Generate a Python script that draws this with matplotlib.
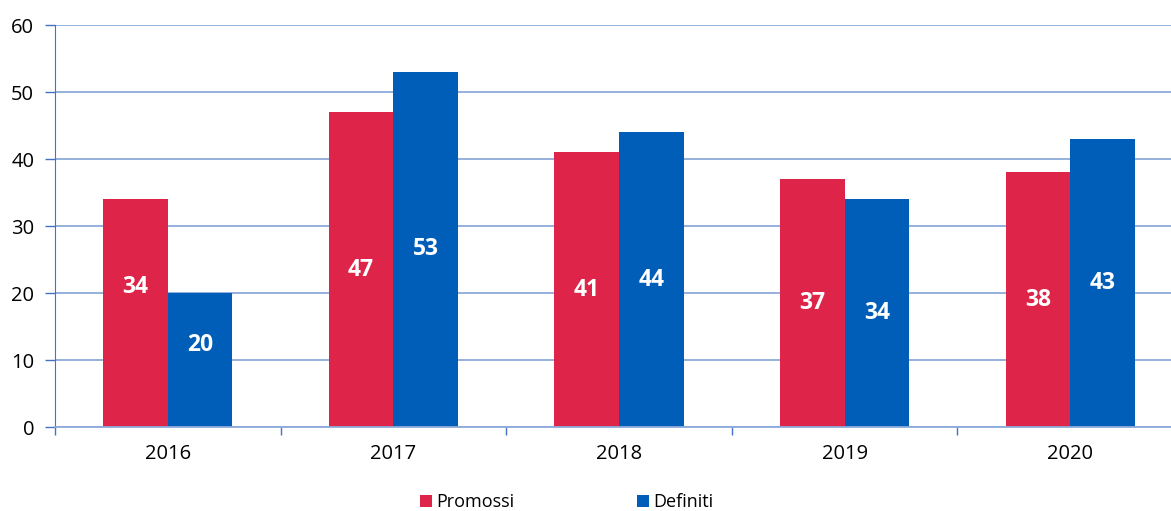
import matplotlib.pyplot as plt
from matplotlib.patches import Patch

# Data
years = ["2016", "2017", "2018", "2019", "2020"]
promossi = [34, 47, 41, 37, 38]
definiti = [20, 53, 44, 34, 43]

RED = "#DE2549"
BLUE = "#005EB8"
GRID = "#8EAADB"
AXIS = "#4472C4"

plt.rcParams["font.family"] = ["Open Sans", "DejaVu Sans"]

fig = plt.figure(figsize=(11.71, 5.11), dpi=100)
ax = fig.add_axes([55 / 1171, 84 / 511, 1128 / 1171, 402 / 511])

centers = [i + 0.5 for i in range(len(years))]
w = 0.286
bars_p = ax.bar([c - w / 2 for c in centers], promossi, width=w, color=RED, zorder=2)
bars_d = ax.bar([c + w / 2 for c in centers], definiti, width=w, color=BLUE, zorder=2)

# labels sit mid-bar; the first group is nudged up a bit
shift_p = {0: 3.9}
shift_d = {0: 2.2}
for i, (bp, bd) in enumerate(zip(bars_p, bars_d)):
    for bar, v, sh in ((bp, promossi[i], shift_p), (bd, definiti[i], shift_d)):
        ax.text(bar.get_x() + bar.get_width() / 2, v / 2 + sh.get(i, 0), str(v),
                ha="center", va="center", color="white", fontsize=16.5,
                fontweight="bold", zorder=3)

ax.set_xlim(0, 5)
ax.set_ylim(0, 60)
ax.set_yticks(range(0, 61, 10))
ax.set_xticks(range(0, 6))
ax.set_xticklabels([])
ax.set_xticks(centers, minor=True)
ax.set_xticklabels(years, minor=True)
ax.tick_params(axis="x", which="minor", length=0, pad=12, labelsize=14.5)
ax.tick_params(axis="x", which="major", length=6, color=AXIS, width=1)
ax.tick_params(axis="y", length=7, color=AXIS, width=1, labelsize=14.5, pad=8)

ax.yaxis.grid(True, color=GRID, linewidth=1.3, zorder=0)
ax.set_axisbelow(True)
for s in ("top", "right"):
    ax.spines[s].set_visible(False)
ax.spines["left"].set_color(AXIS)
ax.spines["bottom"].set_color(GRID)
ax.spines["bottom"].set_linewidth(1.3)

handles = [Patch(facecolor=RED), Patch(facecolor=BLUE)]
fig.legend(handles, ["Promossi", "Definiti"], ncol=2, loc="center",
           bbox_to_anchor=(567 / 1171, 1 - 502 / 511), frameon=False,
           fontsize=13, handlelength=0.65, handleheight=0.65,
           handletextpad=0.25, columnspacing=6.8)

fig.savefig("out.png", dpi=100)
